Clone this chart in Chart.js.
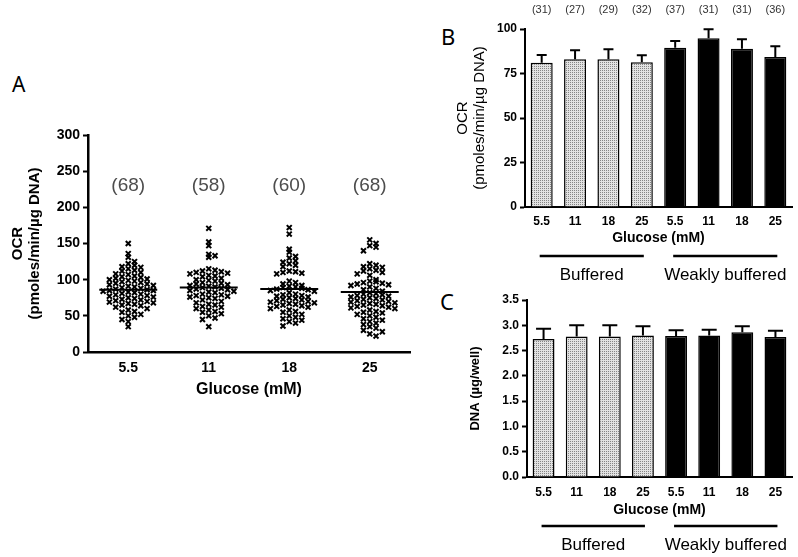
<!DOCTYPE html>
<html>
<head>
<meta charset="utf-8">
<script src="https://cdn.jsdelivr.net/npm/chart.js@4.4.1/dist/chart.umd.min.js"></script>
<style>
    body { margin: 0; background: #fff; }
    #wrap { position: relative; width: 798px; height: 557px; overflow: hidden; background: #fff; }
    canvas { position: absolute; }
    .panel { position: absolute; font-family: 'Noto Sans', sans-serif; font-size: 22px; line-height: 1; color: #000; }
</style>
</head>
<body>
<div id="wrap">
    <div class="panel" style="left:12px;top:74px;font-size:21px">A</div>
    <div class="panel" style="left:441px;top:25px">B</div>
    <div class="panel" style="left:440px;top:290px">C</div>
    <canvas id="chartA" width="420" height="350" style="left:0;top:60px"></canvas>
    <canvas id="chartB" width="358" height="290" style="left:440px;top:0"></canvas>
    <canvas id="chartC" width="358" height="272" style="left:440px;top:285px"></canvas>
</div>
<script>
// panel A: individual OCR values per glucose level
const glucoseLabels = ['5.5', '11', '18', '25'];
const ocr55 = [150, 136, 131, 125, 122, 120, 118, 117, 115, 113,
    112, 110, 108, 107, 105, 104, 103, 102, 101, 100,
    99, 98, 97, 96, 95, 94, 93, 92, 91, 90,
    89, 88, 87, 86, 85, 85, 84, 83, 82, 81,
    80, 79, 78, 77, 76, 75, 74, 73, 72, 71,
    70, 69, 68, 67, 66, 65, 64, 62, 60, 58,
    56, 55, 52, 50, 48, 45, 42, 35];
const ocr11 = [171, 152, 147, 135, 133, 131, 115, 113, 112, 111,
    110, 109, 108, 106, 105, 104, 102, 100, 99, 98,
    96, 95, 94, 93, 92, 91, 90, 89, 88, 87,
    86, 85, 84, 83, 82, 80, 79, 78, 77, 76,
    75, 74, 72, 70, 68, 66, 65, 63, 62, 60,
    58, 56, 55, 53, 50, 47, 45, 35];
const ocr18 = [172, 163, 142, 138, 132, 130, 126, 124, 122, 120,
    118, 112, 111, 110, 109, 108, 98, 96, 94, 92,
    91, 90, 89, 88, 87, 86, 85, 84, 82, 80,
    79, 78, 77, 76, 75, 74, 73, 72, 71, 70,
    69, 68, 67, 66, 65, 64, 63, 62, 60, 58,
    56, 55, 52, 50, 48, 46, 44, 42, 40, 36];
const ocr25 = [155, 150, 147, 145, 140, 122, 120, 118, 117, 115,
    113, 112, 110, 108, 106, 100, 98, 97, 96, 95,
    94, 93, 92, 90, 88, 86, 84, 82, 81, 80,
    79, 78, 77, 76, 75, 74, 73, 72, 71, 70,
    69, 68, 67, 66, 65, 64, 63, 62, 61, 60,
    58, 56, 55, 54, 52, 50, 48, 46, 44, 42,
    40, 38, 35, 33, 30, 28, 25, 22];
const ocrMeansA = [86, 89, 87, 83];
const countsA = ['(68)', '(58)', '(60)', '(68)'];
const countLevelA = 230;

// panels B and C: bars per glucose level and buffer
const barLabels = ['5.5', '11', '18', '25', '5.5', '11', '18', '25'];
const ocrMeansB = [81, 83, 83, 81.3, 89.5, 94.8, 88.9, 84.3];
const ocrSemB = [4.4, 5, 5.6, 3.9, 3.8, 5, 5.3, 6];
const countsB = ['(31)', '(27)', '(29)', '(32)', '(37)', '(31)', '(31)', '(36)'];
const dnaMeans = [2.73, 2.78, 2.78, 2.80, 2.79, 2.80, 2.86, 2.77];
const dnaSem = [0.20, 0.22, 0.22, 0.18, 0.11, 0.11, 0.12, 0.12];
const bufferGroups = ['Buffered', 'Weakly buffered'];

const FONT = "'Liberation Sans', Arial, sans-serif";

// spread points sideways so they don't overlap (simple bee swarm)
function swarm(vals, gi){
    let rows = {};
    let out = [];
    vals.forEach(function(v){
        let key = Math.round(v / 8);
        let n = rows[key] || 0;
        rows[key] = n + 1;
        let off = (n % 2 === 1 ? 1 : -1) * Math.ceil(n / 2);
        out.push({x: gi + off * 0.078, y: v});
    });
    return out;
}

// stippled fill for buffered bars
function makeStipple(){
    let c = document.createElement('canvas');
    c.width = 2; c.height = 2;
    let cx = c.getContext('2d');
    cx.fillStyle = '#e2e2e2';
    cx.fillRect(0, 0, 2, 2);
    cx.fillStyle = '#858585';
    cx.fillRect(0, 0, 1, 1);
    return cx.createPattern(c, 'repeat');
}

const meanLinePlugin = {
    id: 'meanLines',
    afterDatasetsDraw(chart){
        const ctx = chart.ctx;
        const x = chart.scales.x, y = chart.scales.y;
        ctx.save();
        ctx.strokeStyle = '#000';
        ctx.lineWidth = 2;
        ocrMeansA.forEach(function(m, i){
            let py = y.getPixelForValue(m);
            ctx.beginPath();
            ctx.moveTo(x.getPixelForValue(i - 0.36), py);
            ctx.lineTo(x.getPixelForValue(i + 0.36), py);
            ctx.stroke();
        });
        ctx.fillStyle = '#4d4d4d';
        ctx.font = '19px ' + FONT;
        ctx.textAlign = 'center';
        ctx.textBaseline = 'middle';
        countsA.forEach(function(t, i){
            ctx.fillText(t, x.getPixelForValue(i), y.getPixelForValue(countLevelA));
        });
        ctx.restore();
    }
};

let scatterSets = [ocr55, ocr11, ocr18, ocr25].map(function(vals, gi){
    return {
        data: swarm(vals, gi),
        pointStyle: 'crossRot',
        radius: 3.5,
        borderWidth: 2,
        borderColor: '#000',
        backgroundColor: '#000'
    };
});

new Chart(document.getElementById('chartA').getContext('2d'), {
    type: 'scatter',
    data: { datasets: scatterSets },
    options: {
        responsive: false,
        animation: false,
        layout: { padding: { left: 0, right: 10, top: 75, bottom: 0 } },
        plugins: { legend: { display: false }, tooltip: { enabled: false } },
        scales: {
            x: {
                type: 'linear', min: -0.5, max: 3.5,
                afterBuildTicks(axis){ axis.ticks = glucoseLabels.map(function(l, i){ return {value: i}; }); },
                ticks: {
                    callback: function(v){ return glucoseLabels[v]; },
                    color: '#000', padding: 8,
                    font: { family: FONT, size: 14, weight: 'bold' }
                },
                grid: { display: false, drawTicks: false, tickLength: 0 },
                border: { display: true, color: '#000', width: 2.5 },
                title: {
                    display: true, text: 'Glucose (mM)', color: '#000',
                    font: { family: FONT, size: 16, weight: 'bold' },
                    padding: { top: 0, bottom: 11 }
                },
                afterFit(scale){ scale.height = 58; }
            },
            y: {
                min: 0, max: 300,
                ticks: { stepSize: 50, color: '#000', padding: 3, font: { family: FONT, size: 14, weight: 'bold' } },
                grid: { drawOnChartArea: false, tickLength: 5, tickColor: '#000', tickWidth: 2 },
                border: { color: '#000', width: 2.5 },
                title: {
                    display: true, text: ['OCR', '(pmoles/min/µg DNA)'], color: '#000',
                    font: { family: FONT, size: 15, weight: 'bold', lineHeight: 1.13 },
                    padding: { top: 9.5, bottom: 0 }
                },
                afterFit(scale){ scale.width = 88; }
            }
        }
    },
    plugins: [meanLinePlugin]
});

// error bars, counts and buffer groups for the bar panels
function barExtrasPlugin(means, sems, counts, capW){
    return {
        id: 'barExtras',
        afterDatasetsDraw(chart){
            const ctx = chart.ctx;
            const x = chart.scales.x, y = chart.scales.y;
            const area = chart.chartArea;
            const meta = chart.getDatasetMeta(0);
            ctx.save();
            ctx.strokeStyle = '#000';
            ctx.lineWidth = 2;
            meta.data.forEach(function(bar, i){
                let top = y.getPixelForValue(means[i] + sems[i]);
                ctx.beginPath();
                ctx.moveTo(bar.x, bar.y);
                ctx.lineTo(bar.x, top);
                ctx.moveTo(bar.x - capW / 2, top);
                ctx.lineTo(bar.x + capW / 2, top);
                ctx.stroke();
            });
            ctx.textAlign = 'center';
            ctx.textBaseline = 'middle';
            if(counts){
                ctx.fillStyle = '#333';
                ctx.font = '11px ' + FONT;
                counts.forEach(function(t, i){
                    ctx.fillText(t, x.getPixelForValue(i), area.top - 19);
                });
            }
            ctx.fillStyle = '#000';
            ctx.font = '17px ' + FONT;
            ctx.lineWidth = 2.5;
            bufferGroups.forEach(function(g, gi){
                let x1 = x.getPixelForValue(gi * 4) - 2;
                let x2 = x.getPixelForValue(gi * 4 + 3) + 2;
                ctx.beginPath();
                ctx.moveTo(x1, area.bottom + 49);
                ctx.lineTo(x2, area.bottom + 49);
                ctx.stroke();
                ctx.fillText(g, (x1 + x2) / 2, area.bottom + 68);
            });
            ctx.restore();
        }
    };
}

function makeBarChart(id, means, sems, counts, cfg){
    let stipple = makeStipple();
    let fills = means.map(function(m, i){ return i < 4 ? stipple : '#000'; });
    return new Chart(document.getElementById(id).getContext('2d'), {
        type: 'bar',
        data: {
            labels: barLabels,
            datasets: [{
                data: means,
                backgroundColor: fills,
                borderColor: '#000',
                borderWidth: 1.5,
                borderSkipped: 'bottom',
                categoryPercentage: 1,
                barPercentage: 0.66
            }]
        },
        options: {
            responsive: false,
            animation: false,
            layout: { padding: cfg.padding },
            plugins: { legend: { display: false }, tooltip: { enabled: false } },
            scales: {
                x: {
                    ticks: { color: '#000', padding: cfg.xPad, font: { family: FONT, size: 12, weight: 'bold' } },
                    grid: { display: false, drawTicks: false, tickLength: 0 },
                    border: { display: true, color: '#000', width: 2 },
                    title: {
                        display: true, text: 'Glucose (mM)', color: '#000',
                        font: { family: FONT, size: 14, weight: 'bold' },
                        padding: { top: 0, bottom: 0.6 }
                    },
                    afterFit(scale){ scale.height = cfg.xHeight; }
                },
                y: {
                    min: 0, max: cfg.yMax,
                    ticks: {
                        stepSize: cfg.yStep, color: '#000', padding: 3,
                        font: { family: FONT, size: 12, weight: 'bold' },
                        callback: cfg.tickFmt
                    },
                    grid: { drawOnChartArea: false, tickLength: 5, tickColor: '#000', tickWidth: 2 },
                    border: { color: '#000', width: 2 },
                    title: {
                        display: true, text: cfg.yTitle, color: '#000',
                        font: cfg.yTitleFont,
                        padding: { top: cfg.yTitlePad, bottom: 0 }
                    },
                    afterFit(scale){ scale.width = cfg.yWidth; }
                }
            }
        },
        plugins: [barExtrasPlugin(means, sems, counts, cfg.capW)]
    });
}

makeBarChart('chartB', ocrMeansB, ocrSemB, countsB, {
    padding: { left: 0, right: 6, top: 29, bottom: 43 },
    xPad: 7, xHeight: 40,
    yMax: 100, yStep: 25,
    tickFmt: function(v){ return v; },
    yTitle: ['OCR', '(pmoles/min/µg DNA)'],
    yTitleFont: { family: FONT, size: 15, lineHeight: 1.13 },
    yTitlePad: 14.5,
    yWidth: 85,
    capW: 10
});

makeBarChart('chartC', dnaMeans, dnaSem, null, {
    padding: { left: 0, right: 6, top: 15, bottom: 38 },
    xPad: 8, xHeight: 42,
    yMax: 3.5, yStep: 0.5,
    tickFmt: function(v){ return v.toFixed(1); },
    yTitle: 'DNA (µg/well)',
    yTitleFont: { family: FONT, size: 13, weight: 'bold' },
    yTitlePad: 28,
    yWidth: 87,
    capW: 15
});
</script>
</body>
</html>
